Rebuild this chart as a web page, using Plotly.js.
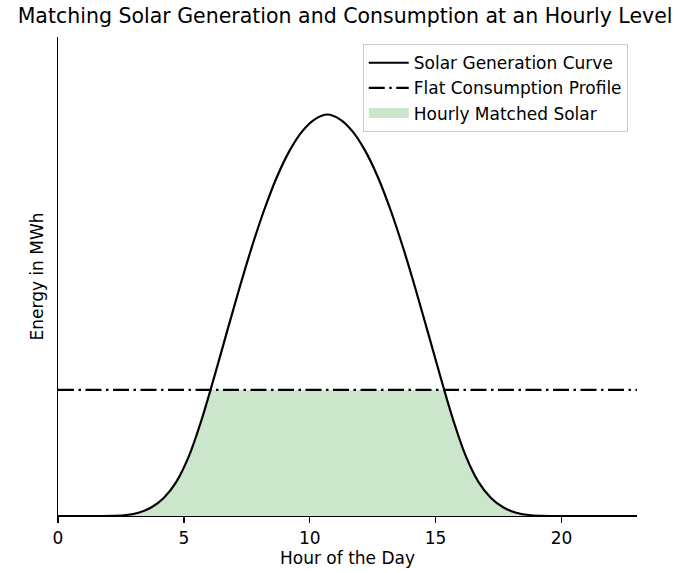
<!DOCTYPE html>
<html>
<head>
<meta charset="utf-8">
<script src="https://cdn.plot.ly/plotly-3.0.1.min.js"></script>
<style>html,body{margin:0;padding:0;background:#fff;}#chart{width:682px;height:573px;}</style>
</head>
<body>
<div id="chart"></div>
<script>
const hours = [0,1.7,2.2,2.7,3.2,3.7,4.2,4.7,5.2,5.7,6.2,6.7,7.2,7.7,8.2,8.7,9.2,9.7,10.2,10.7,11.2,11.7,12.2,12.7,13.2,13.7,14.2,14.7,15.2,15.7,16.2,16.7,17.2,17.7,18.2,18.7,19.2,19.7,23];
// Solar generation (MWh, relative units)
const solar = [0,0,0.05,0.25,0.8,2.1,4.5,8.5,14.9,23.9,34.5,45.6,56.6,67.0,76.4,84.5,91.0,95.8,98.8,100,98.8,95.8,91.0,84.5,76.4,67.0,56.6,45.6,34.5,23.9,14.9,8.5,4.5,2.1,0.8,0.25,0.05,0,0];
// Flat consumption profile
const consumption = [31.4,31.4,31.4,31.4,31.4,31.4,31.4,31.4,31.4,31.4,31.4,31.4,31.4,31.4,31.4,31.4,31.4,31.4,31.4,31.4,31.4,31.4,31.4,31.4,31.4,31.4,31.4,31.4,31.4,31.4,31.4,31.4,31.4,31.4,31.4,31.4,31.4,31.4,31.4];
const xTicks = [0,5,10,15,20];

// Hourly matched = min(solar, consumption), with crossing points inserted
const matchX = [], matchY = [];
for (let i = 0; i < hours.length; i++) {
  if (i > 0) {
    const d0 = solar[i-1] - consumption[i-1], d1 = solar[i] - consumption[i];
    if ((d0 < 0 && d1 > 0) || (d0 > 0 && d1 < 0)) {
      const t = d0 / (d0 - d1);
      matchX.push(hours[i-1] + t * (hours[i] - hours[i-1]));
      matchY.push(consumption[i-1] + t * (consumption[i] - consumption[i-1]));
    }
  }
  matchX.push(hours[i]);
  matchY.push(Math.min(solar[i], consumption[i]));
}

const font = "DejaVu Sans, sans-serif";
const green = 'rgba(0,128,0,0.2)';
const data = [
  {x: matchX, y: matchY, type: 'scatter', mode: 'lines', name: 'Hourly Matched Solar',
   fill: 'tozeroy', fillcolor: green, line: {width: 0, color: green},
   showlegend: false, hoverinfo: 'skip'},
  {x: hours, y: solar, type: 'scatter', mode: 'lines', name: 'Solar Generation Curve',
   line: {color: '#000', width: 2.2, shape: 'spline', smoothing: 1}, legendrank: 1},
  {x: hours, y: consumption, type: 'scatter', mode: 'lines', name: 'Flat Consumption Profile',
   line: {color: '#000', width: 2.2, dash: '16px,4.5px,2.5px,4.5px'}, legendrank: 2},
  {x: [null], y: [null], type: 'scatter', mode: 'lines', name: 'Hourly Matched Solar',
   line: {color: green, width: 13}, legendrank: 3, hoverinfo: 'skip'}
];

const layout = {
  width: 682, height: 573,
  margin: {l: 58, r: 45, t: 37, b: 57},
  paper_bgcolor: '#fff', plot_bgcolor: '#fff',
  font: {family: font, size: 17, color: '#000'},
  title: {text: 'Matching Solar Generation and Consumption at an Hourly Level',
          font: {family: font, size: 20.5, color: '#000'},
          x: 0.506, xanchor: 'center', y: 0.972, yanchor: 'middle', yref: 'container'},
  xaxis: {range: [0, 23], tickvals: xTicks, ticktext: xTicks.map(String),
          showline: true, linecolor: '#000', linewidth: 1.3, mirror: false,
          ticks: 'outside', ticklen: 6, tickwidth: 1.3, tickcolor: '#000',
          showgrid: false, zeroline: false,
          tickfont: {family: font, size: 17, color: '#000'},
          title: {text: 'Hour of the Day', font: {family: font, size: 17, color: '#000'}, standoff: 5}},
  yaxis: {range: [0, 119.3], showticklabels: false, ticks: '',
          showline: true, linecolor: '#000', linewidth: 1.3, mirror: false,
          showgrid: false, zeroline: false,
          title: {text: 'Energy in MWh', font: {family: font, size: 17, color: '#000'}, standoff: 8}},
  showlegend: true,
  legend: {x: 0.984, xanchor: 'right', y: 0.985, yanchor: 'top', itemwidth: 40,
           bgcolor: 'rgba(255,255,255,0.8)', bordercolor: '#cccccc', borderwidth: 1,
           font: {family: font, size: 17, color: '#000'}, traceorder: 'normal'}
};

Plotly.newPlot('chart', data, layout, {displayModeBar: false, staticPlot: true});
</script>
</body>
</html>
